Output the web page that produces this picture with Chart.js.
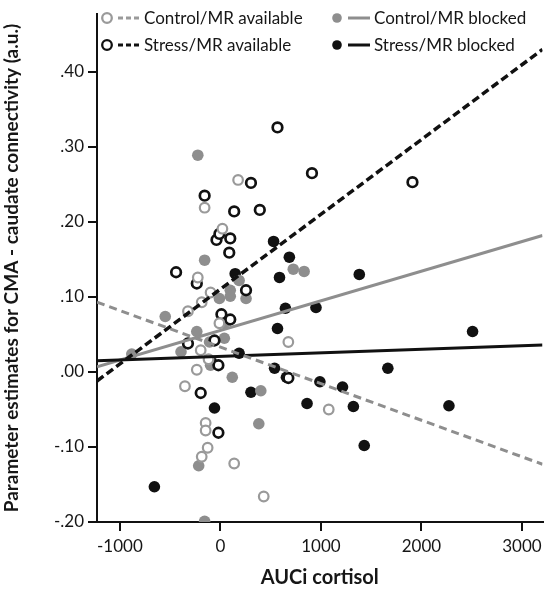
<!DOCTYPE html>
<html>
<head>
<meta charset="utf-8">
<script src="https://cdn.jsdelivr.net/npm/chart.js@4.4.1/dist/chart.umd.min.js"></script>
<style>
  html, body { margin: 0; padding: 0; background: #fff; }
  #wrap { width: 550px; height: 594px; }
</style>
</head>
<body>
<div id="wrap"><canvas id="c"></canvas></div>
<script>
// Control / MR available (open grey)
const ctrlAvailX = [176, -157, 20, -225, -98, -186, -323, -10, -196, -118, -235, -353, 676, -147, -147, -127, -186, 137, 431, 1078];
const ctrlAvailY = [0.256, 0.219, 0.191, 0.126, 0.106, 0.093, 0.081, 0.065, 0.029, 0.017, 0.003, -0.019, 0.040, -0.068, -0.078, -0.101, -0.113, -0.122, -0.166, -0.050];
// Control / MR blocked (filled grey)
const ctrlBlockX = [-225, -157, 725, 833, 186, 98, 98, -10, 255, -549, -235, 39, -108, 39, -392, -98, 118, 402, 382, -216, -157, -882];
const ctrlBlockY = [0.289, 0.149, 0.137, 0.134, 0.122, 0.109, 0.101, 0.098, 0.098, 0.074, 0.054, 0.065, 0.040, 0.045, 0.027, 0.009, -0.007, -0.025, -0.069, -0.125, -0.199, 0.024];
// Stress / MR available (open black)
const strAvailX = [568, 911, 1911, 304, -157, 137, 392, -39, -10, 98, 88, -441, -235, 255, 10, 98, -323, -59, -20, -196, -20, 676];
const strAvailY = [0.326, 0.265, 0.253, 0.252, 0.235, 0.214, 0.216, 0.176, 0.184, 0.178, 0.159, 0.133, 0.118, 0.109, 0.077, 0.070, 0.038, 0.042, 0.009, -0.028, -0.081, -0.008];
// Stress / MR blocked (filled black)
const strBlockX = [529, 686, 147, 588, 1382, 647, 951, 568, 2509, 539, 1666, 657, 990, 1215, 862, 1323, 2274, 1431, -59, 304, -657, 186, -88];
const strBlockY = [0.174, 0.153, 0.131, 0.126, 0.130, 0.085, 0.086, 0.058, 0.054, 0.005, 0.005, -0.007, -0.013, -0.020, -0.042, -0.046, -0.045, -0.098, -0.048, -0.027, -0.153, 0.025, 0.013];

// regression lines: values at both ends of the x range
const fitX = [-1228, 3205];
const ctrlAvailFit = [0.093, -0.123];
const ctrlBlockFit = [0.007, 0.182];
const strAvailFit = [-0.012, 0.430];
const strBlockFit = [0.015, 0.036];

const xTicks = [-1000, 0, 1000, 2000, 3000];
const yTicks = [-0.2, -0.1, 0, 0.1, 0.2, 0.3, 0.4];

const GREY = '#8e8e8e';
const GREY_OPEN = '#9a9a9a';
const BLACK = '#111';
const TXT = '#161616';

const pts = (xs, ys) => xs.map((x, i) => ({x: x, y: ys[i]}));

const legendItems = [
  {label: 'Control/MR available', color: GREY_OPEN, fill: false, dash: [5, 3]},
  {label: 'Control/MR blocked', color: GREY, fill: true, dash: []},
  {label: 'Stress/MR available', color: BLACK, fill: false, dash: [5, 3]},
  {label: 'Stress/MR blocked', color: BLACK, fill: true, dash: []}
];

// legend drawn inside the plot, two columns
const legendPlugin = {
  id: 'insideLegend',
  afterDraw(chart) {
    const ctx = chart.ctx;
    const a = chart.chartArea;
    ctx.save();
    ctx.font = '17px Lato, "Open Sans", sans-serif';
    ctx.textBaseline = 'middle';
    legendItems.forEach((it, i) => {
      const col = i % 2, row = Math.floor(i / 2);
      const x0 = a.left + 10 + col * 230;
      const y0 = 18 + row * 27;
      ctx.beginPath();
      ctx.arc(x0, y0, 4.8, 0, Math.PI * 2);
      if (it.fill) { ctx.fillStyle = it.color; ctx.fill(); }
      else { ctx.strokeStyle = it.color; ctx.lineWidth = 2.3; ctx.stroke(); }
      ctx.beginPath();
      ctx.setLineDash(it.dash);
      ctx.strokeStyle = it.color;
      ctx.lineWidth = 3;
      ctx.moveTo(x0 + 11, y0);
      ctx.lineTo(x0 + 33, y0);
      ctx.stroke();
      ctx.setLineDash([]);
      ctx.fillStyle = TXT;
      ctx.fillText(it.label, x0 + 37, y0 + 1);
    });
    ctx.restore();
  }
};

const lineDs = (label, ys, color, dash, width) => ({
  type: 'line', label: label, data: pts(fitX, ys), borderColor: color,
  borderDash: dash, borderWidth: width, pointRadius: 0, fill: false, order: 1
});

new Chart(document.getElementById('c'), {
  type: 'scatter',
  data: {
    datasets: [
      lineDs('Stress/MR available fit', strAvailFit, BLACK, [8, 4], 3.5),
      lineDs('Control/MR available fit', ctrlAvailFit, GREY, [8, 5], 3),
      lineDs('Stress/MR blocked fit', strBlockFit, BLACK, [], 3),
      lineDs('Control/MR blocked fit', ctrlBlockFit, GREY, [], 3),
      {label: 'Control/MR available', data: pts(ctrlAvailX, ctrlAvailY), pointRadius: 4.8,
        pointBackgroundColor: '#fff', pointBorderColor: GREY_OPEN, pointBorderWidth: 2.2, order: 2},
      {label: 'Stress/MR available', data: pts(strAvailX, strAvailY), pointRadius: 4.8,
        pointBackgroundColor: '#fff', pointBorderColor: BLACK, pointBorderWidth: 2.7, order: 2},
      {label: 'Control/MR blocked', data: pts(ctrlBlockX, ctrlBlockY), pointRadius: 5.8,
        pointBackgroundColor: GREY, pointBorderColor: GREY, pointBorderWidth: 0, order: 3},
      {label: 'Stress/MR blocked', data: pts(strBlockX, strBlockY), pointRadius: 5.8,
        pointBackgroundColor: BLACK, pointBorderColor: BLACK, pointBorderWidth: 0, order: 3}
    ]
  },
  options: {
    responsive: true,
    maintainAspectRatio: false,
    animation: false,
    layout: {padding: {top: 12, right: 0, left: 0, bottom: 0}},
    plugins: {legend: {display: false}, tooltip: {enabled: false}},
    scales: {
      x: {
        type: 'linear', min: -1228, max: 3205,
        afterBuildTicks: (s) => { s.ticks = xTicks.map(v => ({value: v})); },
        afterFit: (s) => { s.height = 72; },
        grid: {drawOnChartArea: false, drawTicks: true, tickLength: 9, color: BLACK, lineWidth: 2},
        border: {display: true, color: BLACK, width: 2},
        ticks: {color: TXT, font: {family: 'Lato', size: 17}, padding: 5, maxRotation: 0,
          callback: (v) => String(v)},
        title: {display: true, text: 'AUCi cortisol', color: TXT,
          font: {family: 'Lato', size: 20, weight: 'bold'}, padding: {top: 4}}
      },
      y: {
        type: 'linear', min: -0.2, max: 0.477,
        afterBuildTicks: (s) => { s.ticks = yTicks.map(v => ({value: v})); },
        afterFit: (s) => { s.width = 97; },
        grid: {drawOnChartArea: false, drawTicks: true, tickLength: 9, color: BLACK, lineWidth: 2},
        border: {display: true, color: BLACK, width: 2},
        ticks: {
          color: TXT, font: {family: 'Lato', size: 17}, padding: 4,
          callback: (v) => {
            const r = Math.round(v * 100) / 100;
            const s = Math.abs(r).toFixed(2).slice(1);
            return (r < 0 ? '-' : '') + s;
          }
        },
        title: {display: true, text: 'Parameter estimates for CMA - caudate connectivity (a.u.)',
          color: TXT, font: {family: 'Lato', size: 19, weight: 'bold'}, padding: {top: 0, bottom: 2}}
      }
    }
  },
  plugins: [legendPlugin]
});
</script>
</body>
</html>
